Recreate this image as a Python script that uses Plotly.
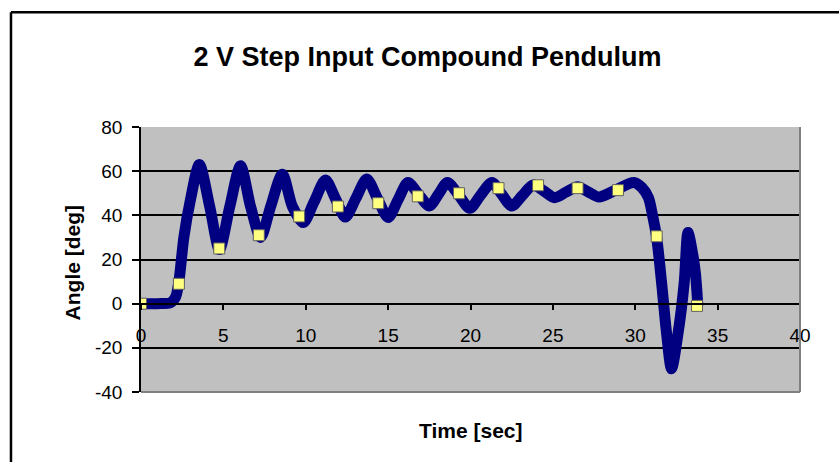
import plotly.graph_objects as go

t_dense = [0, 1.0, 1.8, 2.1, 2.3, 2.6, 3.0, 3.54, 4.17, 4.76, 5.39, 6.04, 6.65, 7.26, 7.87,
           8.58, 9.19, 9.85, 10.5, 11.2, 11.8, 12.4, 13.05, 13.7, 14.35, 15.0, 15.6, 16.2,
           16.85, 17.5, 18.05, 18.6, 19.3, 19.96, 20.6, 21.3, 21.9, 22.5, 23.15, 23.8, 24.45,
           25.1, 25.8, 26.5, 27.15, 27.8, 28.85, 29.9, 30.4, 30.8, 31.05, 31.3, 31.6, 31.9,
           32.2, 32.6, 32.97, 33.2, 33.45, 33.65, 33.8]
angle_dense = [0, 0, 0.5, 3, 10, 30, 47, 63, 44, 24.5, 44, 62.4, 44, 30, 44,
               58.6, 44, 36.7, 46, 56, 47.6, 39.2, 47.8, 56.4, 47.7, 39, 47, 54.9,
               49.5, 44.2, 49.5, 54.9, 49, 43.2, 49, 54.9, 49.5, 44.2, 49, 53.8, 51,
               48, 50.5, 53, 50.6, 48.3, 51.6, 54.9, 52.6, 48, 40, 29.9, 9.4, -13.3,
               -29.5, -13.3, 9.4, 32.2, 24, 14, -1]

# Sampled points (yellow markers)
t_marks = [0, 2.3, 4.75, 7.15, 9.6, 11.95, 14.4, 16.8, 19.3, 21.7, 24.1, 26.5, 28.95, 31.3, 33.75]
angle_marks = [0, 9, 25, 31, 39.5, 44, 45.5, 48.6, 50, 52.3, 53.6, 52.3, 51.4, 30.5, -1]

x_ticks = [0, 5, 10, 15, 20, 25, 30, 35, 40]
y_ticks = [-40, -20, 0, 20, 40, 60, 80]

FONT = "Liberation Sans, Arial, sans-serif"

fig = go.Figure()
fig.add_trace(go.Scatter(
    x=t_dense, y=angle_dense, mode="lines",
    line=dict(color="#000080", width=11, shape="spline", smoothing=0.8),
    showlegend=False, hoverinfo="skip"))
fig.add_trace(go.Scatter(
    x=t_marks, y=angle_marks, mode="markers",
    marker=dict(symbol="square", size=11, color="#FFFF80",
                line=dict(color="#606060", width=1)),
    showlegend=False))

fig.update_layout(
    width=839, height=462, autosize=False,
    margin=dict(l=141, r=39, t=127, b=70),
    paper_bgcolor="white", plot_bgcolor="#C0C0C0",
    font=dict(family=FONT, color="black"),
    title=dict(text="<b>2 V Step Input Compound Pendulum</b>", x=0.4347, xref="paper",
               xanchor="center", y=1 - 57 / 462, yanchor="middle",
               font=dict(size=27, family=FONT, color="black")),
    xaxis=dict(range=[0, 40], tickvals=x_ticks, ticktext=[str(v) for v in x_ticks],
               showgrid=False, zeroline=False, showline=True, linecolor="black",
               linewidth=1.5, ticks="outside", ticklen=6, tickcolor="black",
               tickwidth=1.5, tickfont=dict(size=19, family=FONT, color="black"),
               anchor="free", position=1 / 3, ticklabelstandoff=9),
    yaxis=dict(range=[-40, 80], tickvals=y_ticks, ticktext=[str(v) for v in y_ticks],
               showgrid=True, gridcolor="black", gridwidth=1.5, zeroline=False,
               showline=True, linecolor="black", linewidth=1.5, ticks="outside",
               ticklen=7, tickcolor="black", tickwidth=1.5,
               tickfont=dict(size=19, family=FONT, color="black"), ticklabelstandoff=6),
    annotations=[
        dict(text="<b>Time [sec]</b>", x=0.5, y=-0.1445, xref="paper", yref="paper",
             xanchor="center", yanchor="middle", showarrow=False,
             font=dict(size=21, family=FONT, color="black")),
        dict(text="<b>Angle [deg]</b>", x=-0.1047, y=0.489, xref="paper", yref="paper",
             xanchor="center", yanchor="middle", showarrow=False, textangle=-90,
             font=dict(size=21, family=FONT, color="black")),
    ],
    shapes=[
        # plot area border (right and bottom, gray)
        dict(type="line", xref="paper", yref="paper", x0=1, x1=1, y0=0, y1=1,
             line=dict(color="#808080", width=2), layer="above"),
        dict(type="line", xref="paper", yref="paper", x0=0, x1=1, y0=0, y1=0,
             line=dict(color="#808080", width=2), layer="above"),
        # outer chart frame
        dict(type="line", xref="paper", yref="paper", x0=-0.1973, x1=1.07,
             y0=1.4328, y1=1.4328, line=dict(color="black", width=2.5)),
        dict(type="line", xref="paper", yref="paper", x0=-0.1973, x1=-0.1973,
             y0=1.4328, y1=-0.3, line=dict(color="black", width=2.5)),
    ],
)

fig.write_html("out.html")
